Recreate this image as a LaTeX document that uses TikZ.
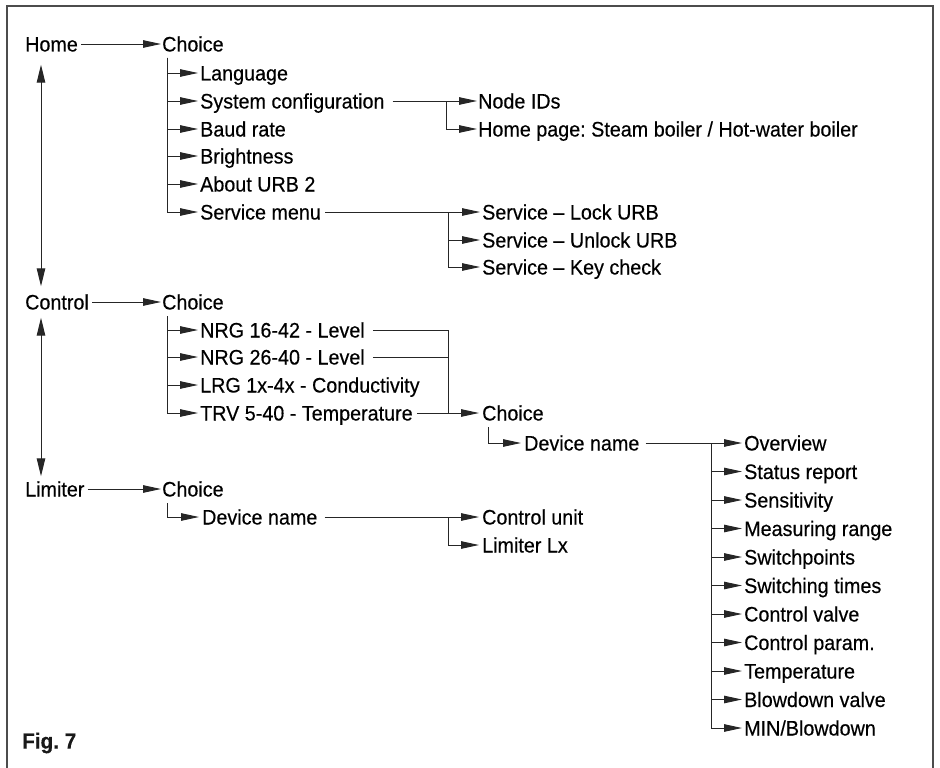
\documentclass[tikz,border=0pt]{standalone}
\usepackage{fontspec}
\setmainfont[FakeStretch=0.94,FakeBold=0.35]{Liberation Sans}
\usetikzlibrary{arrows.meta,calc}
\frenchspacing

\begin{document}
\begin{tikzpicture}[x=1pt,y=-1pt,
  txt/.style={anchor=west,inner sep=0pt,text height=15pt,text depth=0pt,font=\fontsize{21}{24}\selectfont,text=black},
  con/.style={line width=0.95pt,draw=black!85},
  arr/.style={con,-{Triangle[length=18pt,width=7.5pt]}},
  darr/.style={con,{Triangle[length=18pt,width=8.5pt]}-{Triangle[length=18pt,width=8.5pt]}}]
	\useasboundingbox (0,0) rectangle (940,768);
	\draw[line width=1.6pt,black!70] (7,768) -- (7,6) -- (933,6) -- (933,768);
	% Home
	\node[txt] (home) at (25,44) {Home};
	\node[txt] (hchoice) at (162,44) {Choice};
	\node[txt] (lang) at (200,73) {Language};
	\node[txt] (sysconf) at (200,101) {System configuration};
	\node[txt] (baud) at (200,129) {Baud rate};
	\node[txt] (bright) at (200,156) {Brightness};
	\node[txt] (about) at (200,184) {About URB 2};
	\node[txt] (service) at (200,212) {Service menu};
	\node[txt] (nodeid) at (478,101) {Node IDs};
	\node[txt] (homepage) at (478,129) {Home page: Steam boiler / Hot-water boiler};
	\node[txt] (lock) at (482,212) {Service – Lock URB};
	\node[txt] (unlock) at (482,240) {Service – Unlock URB};
	\node[txt] (keycheck) at (482,267) {Service – Key check};
	\draw[arr] ([xshift=3pt]home.east) -- ([xshift=-1pt]hchoice.west);
	\coordinate (hv) at ($(hchoice.west)+(5,14)$);
	\draw[arr] (hv) |- ([xshift=-2pt]lang.west);
	\draw[arr] (hv) |- ([xshift=-2pt]sysconf.west);
	\draw[arr] (hv) |- ([xshift=-2pt]baud.west);
	\draw[arr] (hv) |- ([xshift=-2pt]bright.west);
	\draw[arr] (hv) |- ([xshift=-2pt]about.west);
	\draw[arr] (hv) |- ([xshift=-2pt]service.west);
	\draw[arr] ([xshift=8pt]sysconf.east) -- ([xshift=-1pt]nodeid.west);
	\draw[arr] ($(nodeid.west)+(-32,0)$) |- ([xshift=-1pt]homepage.west);
	\draw[arr] ([xshift=4pt]service.east) -- ([xshift=-2pt]lock.west);
	\draw[arr] ($(lock.west)+(-34,0)$) |- ([xshift=-2pt]unlock.west);
	\draw[arr] ($(lock.west)+(-34,0)$) |- ([xshift=-2pt]keycheck.west);
	% Control
	\node[txt] (control) at (25,302) {Control};
	\node[txt] (cchoice) at (162,302) {Choice};
	\node[txt] (nrga) at (200,330) {NRG 16-42 - Level};
	\node[txt] (nrgb) at (200,357) {NRG 26-40 - Level};
	\node[txt] (lrg) at (200,385) {LRG 1x-4x - Conductivity};
	\node[txt] (trv) at (200,413) {TRV 5-40 - Temperature};
	\node[txt] (dchoice) at (482,413) {Choice};
	\node[txt] (cdevice) at (524,443) {Device name};
	\node[txt] (dm0) at (744,443) {Overview};
	\node[txt] (dm1) at (744,471.5) {Status report};
	\node[txt] (dm2) at (744,500) {Sensitivity};
	\node[txt] (dm3) at (744,528.5) {Measuring range};
	\node[txt] (dm4) at (744,557) {Switchpoints};
	\node[txt] (dm5) at (744,585.5) {Switching times};
	\node[txt] (dm6) at (744,614) {Control valve};
	\node[txt] (dm7) at (744,642.5) {Control param.};
	\node[txt] (dm8) at (744,671) {Temperature};
	\node[txt] (dm9) at (744,699.5) {Blowdown valve};
	\node[txt] (dm10) at (744,728) {MIN/Blowdown};
	\draw[arr] ([xshift=3pt]control.east) -- ([xshift=-1pt]cchoice.west);
	\coordinate (cv) at ($(cchoice.west)+(5,14)$);
	\draw[arr] (cv) |- ([xshift=-2pt]nrga.west);
	\draw[arr] (cv) |- ([xshift=-2pt]nrgb.west);
	\draw[arr] (cv) |- ([xshift=-2pt]lrg.west);
	\draw[arr] (cv) |- ([xshift=-2pt]trv.west);
	\coordinate (join) at ($(dchoice.west)+(-34,0)$);
	\draw[con] ([xshift=8pt]nrga.east) -| (join);
	\draw[con] ([xshift=8pt]nrgb.east) -- (nrgb.east -| join);
	\draw[arr] ([xshift=4pt]trv.east) -- ([xshift=-3pt]dchoice.west);
	\coordinate (dv) at ($(dchoice.west)+(6,14)$);
	\draw[arr] (dv) |- ([xshift=-3pt]cdevice.west);
	\coordinate (dmv) at ($(dm0.west)+(-33,0)$);
	\draw[arr] ([xshift=6pt]cdevice.east) -- ([xshift=-2pt]dm0.west);
	\draw[arr] (dmv) |- ([xshift=-2pt]dm1.west);
	\draw[arr] (dmv) |- ([xshift=-2pt]dm2.west);
	\draw[arr] (dmv) |- ([xshift=-2pt]dm3.west);
	\draw[arr] (dmv) |- ([xshift=-2pt]dm4.west);
	\draw[arr] (dmv) |- ([xshift=-2pt]dm5.west);
	\draw[arr] (dmv) |- ([xshift=-2pt]dm6.west);
	\draw[arr] (dmv) |- ([xshift=-2pt]dm7.west);
	\draw[arr] (dmv) |- ([xshift=-2pt]dm8.west);
	\draw[arr] (dmv) |- ([xshift=-2pt]dm9.west);
	\draw[arr] (dmv) |- ([xshift=-2pt]dm10.west);
	% Limiter
	\node[txt] (limiter) at (25,489) {Limiter};
	\node[txt] (lchoice) at (162,489) {Choice};
	\node[txt] (ldevice) at (202,517) {Device name};
	\node[txt] (cunit) at (482,517) {Control unit};
	\node[txt] (lx) at (482,545) {Limiter Lx};
	\draw[arr] ([xshift=3pt]limiter.east) -- ([xshift=-1pt]lchoice.west);
	\coordinate (lv) at ($(lchoice.west)+(5,14)$);
	\draw[arr] (lv) |- ([xshift=-3pt]ldevice.west);
	\draw[arr] ([xshift=7pt]ldevice.east) -- ([xshift=-3pt]cunit.west);
	\draw[arr] ($(cunit.west)+(-34,0)$) |- ([xshift=-3pt]lx.west);
	% up and down
	\draw[darr] ([xshift=16pt,yshift=-13pt]home.south west) -- ([xshift=16pt,yshift=8pt]control.north west);
	\draw[darr] ([xshift=16pt,yshift=-8pt]control.south west) -- ([xshift=16pt,yshift=5pt]limiter.north west);
	\node[anchor=west,inner sep=0pt,font=\fontsize{22}{24}\selectfont\bfseries,text=black!90] (fig) at (22,743) {Fig. 7};
\end{tikzpicture}
\end{document}
